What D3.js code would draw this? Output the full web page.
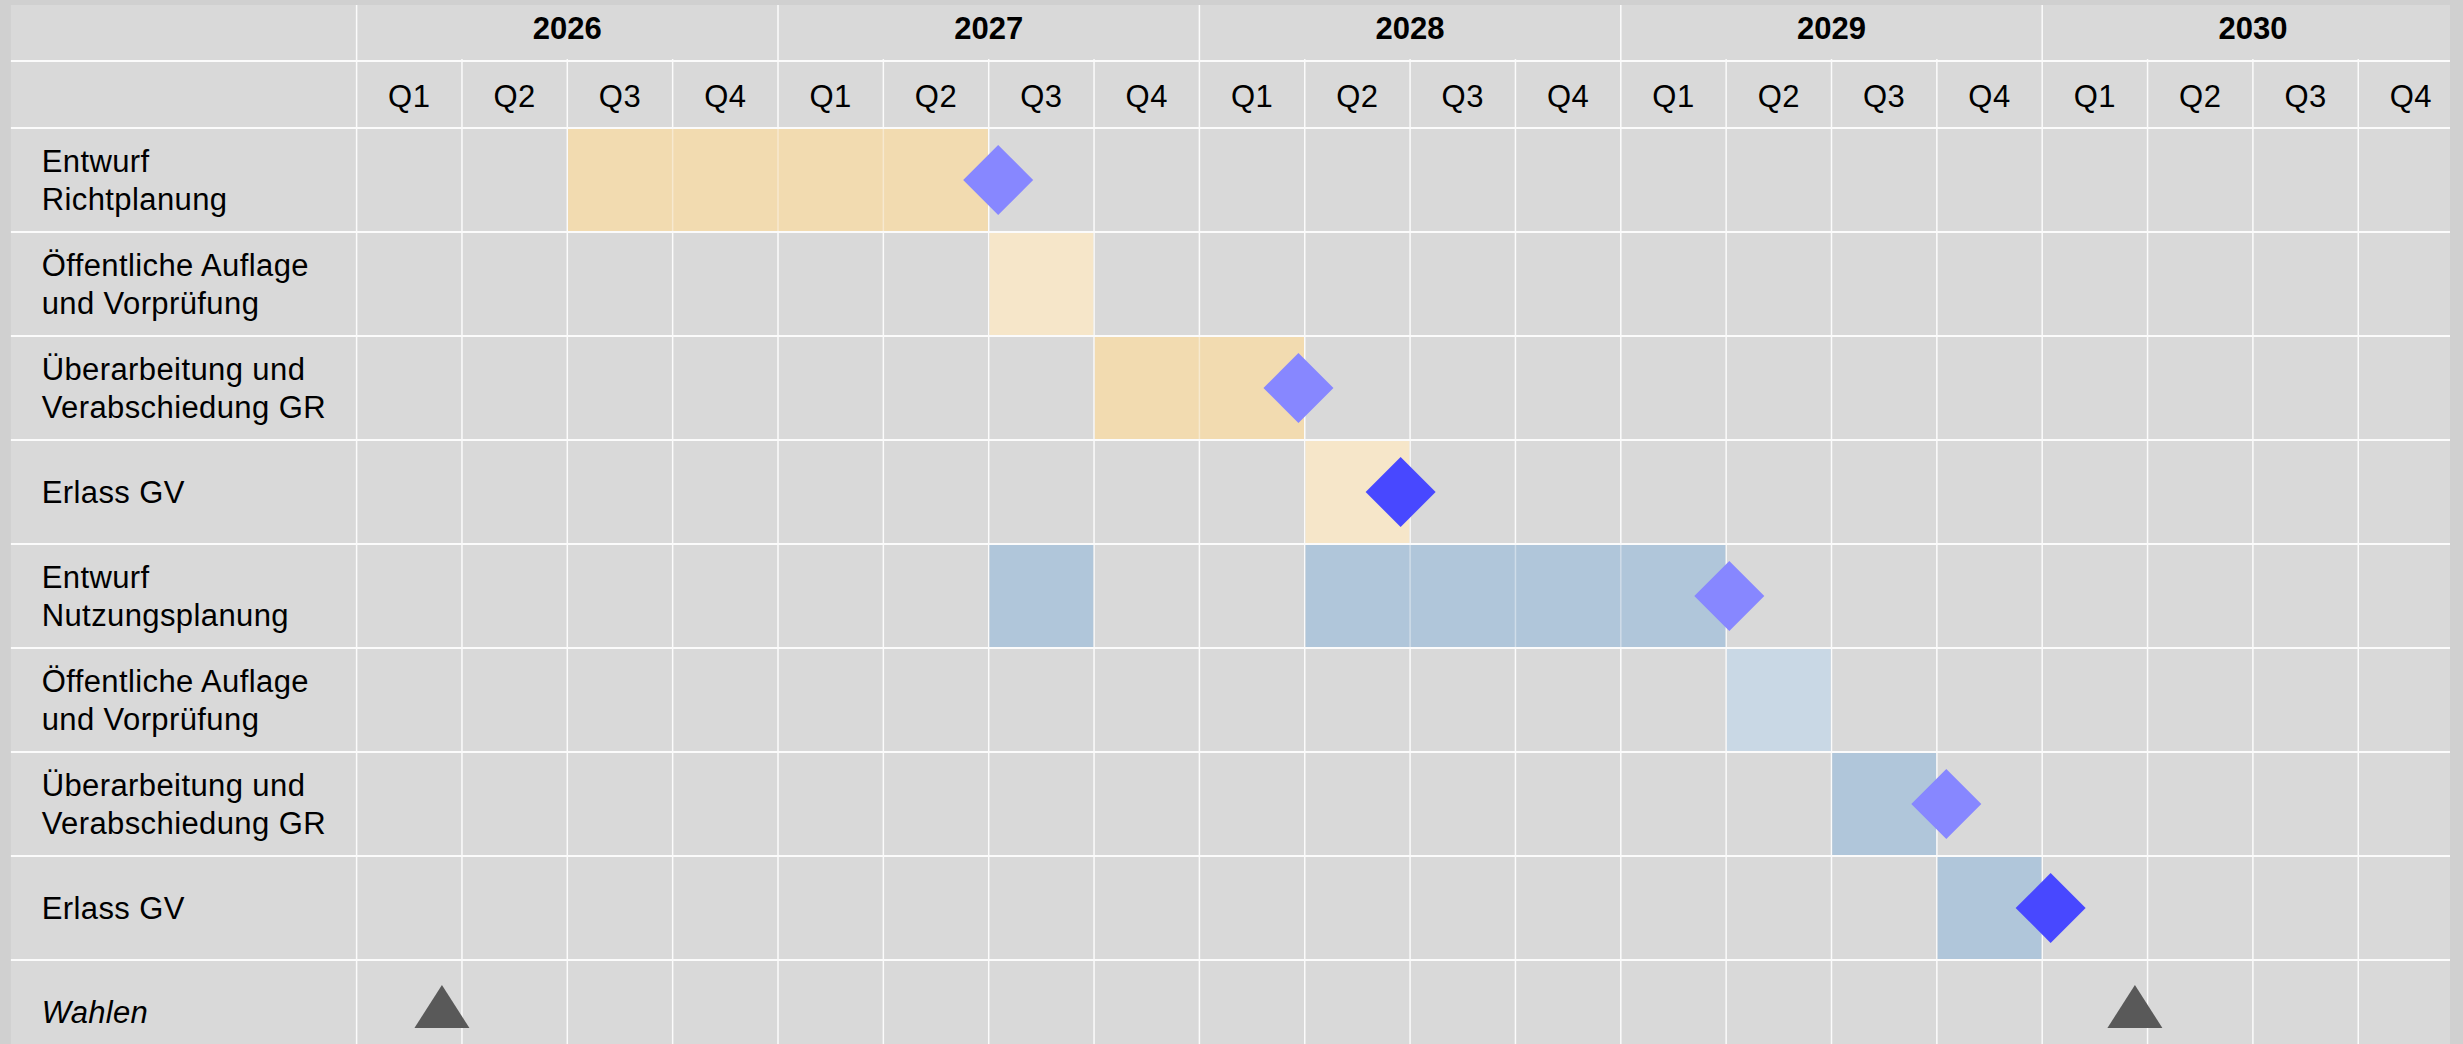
<!DOCTYPE html>
<html>
<head>
<meta charset="utf-8">
<script src="https://cdn.jsdelivr.net/npm/d3@7/dist/d3.min.js"></script>
<style>
  html, body { margin: 0; padding: 0; background: #d0d0d0; }
  svg { display: block; }
  text { font-family: "Liberation Sans", Arial, sans-serif; fill: #000; }
</style>
</head>
<body>
<svg id="chart" width="2463" height="1044"></svg>
<script>
// ---------- data ----------
const years = ["2026", "2027", "2028", "2029", "2030"];
const quarters = ["Q1", "Q2", "Q3", "Q4"];

const taskLabels = [
  ["Entwurf", "Richtplanung"],
  ["Öffentliche Auflage", "und Vorprüfung"],
  ["Überarbeitung und", "Verabschiedung GR"],
  ["Erlass GV"],
  ["Entwurf", "Nutzungsplanung"],
  ["Öffentliche Auflage", "und Vorprüfung"],
  ["Überarbeitung und", "Verabschiedung GR"],
  ["Erlass GV"]
];
const electionLabel = "Wahlen";

// quarter indices (0 = Q1 2026) occupied by each task
const taskCells = [
  [2, 3, 4, 5],
  [6],
  [7, 8],
  [9],
  [6, 9, 10, 11, 12],
  [13],
  [14],
  [15]
];
// planning group: "richt" (orange) or "nutz" (blue); shade: main / light
const taskGroup = ["richt", "richt", "richt", "richt", "nutz", "nutz", "nutz", "nutz"];
const taskShade = ["main", "light", "main", "light", "main", "light", "main", "main"];

// milestones (row index, position in quarters, kind)
const milestoneRow = [0, 2, 3, 4, 6, 7];
const milestonePos = [6.09, 8.94, 9.91, 13.03, 15.09, 16.08];
const milestoneKind = ["step", "step", "final", "step", "step", "final"];

// elections (position in quarters)
const electionPos = [0.81, 16.88];

// ---------- styles ----------
const colors = {
  richt: { main: "#f2dbb0", light: "#f6e6c9" },
  nutz: { main: "#b0c6da", light: "#c9d8e5" },
  step: "#8787ff",
  final: "#4848ff",
  election: "#595959",
  table: "#d9d9d9",
  grid: "#fbfbfb"
};

// ---------- layout ----------
const svg = d3.select("#chart");
const tableLeft = 10.7, tableTop = 5, tableRight = 2450, tableBottom = 1044;
const labelRight = 356.6;
const nQ = years.length * quarters.length;
const x = d3.scaleLinear().domain([0, nQ]).range([labelRight, 2463.6]);
const nRows = taskLabels.length + 1;
const y = d3.scaleLinear().domain([0, nRows]).range([128, 128 + 104 * nRows]);
const header1Bottom = 61;

svg.append("defs").append("clipPath").attr("id", "tableClip")
  .append("rect")
  .attr("x", tableLeft).attr("y", tableTop)
  .attr("width", tableRight - tableLeft).attr("height", tableBottom - tableTop);

const g = svg.append("g").attr("clip-path", "url(#tableClip)");

g.append("rect")
  .attr("x", tableLeft).attr("y", tableTop)
  .attr("width", tableRight - tableLeft).attr("height", tableBottom - tableTop)
  .attr("fill", colors.table);

// ---------- grid lines ----------
const gridG = g.append("g");
const hLines = [header1Bottom].concat(d3.range(0, nRows).map(i => y(i)));
gridG.selectAll("line.h").data(hLines).join("line")
  .attr("class", "h")
  .attr("x1", tableLeft).attr("x2", tableRight)
  .attr("y1", d => d).attr("y2", d => d)
  .attr("stroke", colors.grid).attr("stroke-width", 2);
gridG.append("line")
  .attr("x1", labelRight).attr("x2", labelRight)
  .attr("y1", tableTop).attr("y2", tableBottom)
  .attr("stroke", colors.grid).attr("stroke-width", 1.5);
gridG.selectAll("line.v").data(d3.range(1, nQ + 1)).join("line")
  .attr("class", "v")
  .attr("x1", d => x(d)).attr("x2", d => x(d))
  .attr("y1", d => (d % 4 === 0 ? tableTop : header1Bottom - 2))
  .attr("y2", tableBottom)
  .attr("stroke", colors.grid).attr("stroke-width", 1.5);

// ---------- bars ----------
function segments(cells) {
  const segs = [];
  cells.slice().sort((a, b) => a - b).forEach(c => {
    const last = segs[segs.length - 1];
    if (last && last[1] === c) last[1] = c + 1;
    else segs.push([c, c + 1]);
  });
  return segs;
}
const barData = [];
const jointData = [];
taskCells.forEach((cells, row) => {
  segments(cells).forEach(s => {
    barData.push({ row, start: s[0], end: s[1], color: colors[taskGroup[row]][taskShade[row]] });
    for (let k = s[0] + 1; k < s[1]; k++) jointData.push({ row, pos: k });
  });
});
const barsG = g.append("g");
barsG.selectAll("rect").data(barData).join("rect")
  .attr("x", d => x(d.start) + 0.75)
  .attr("y", d => y(d.row) + 1)
  .attr("width", d => x(d.end) - x(d.start) - 1.5)
  .attr("height", d => y(d.row + 1) - y(d.row) - 2)
  .attr("fill", d => d.color);
barsG.selectAll("line").data(jointData).join("line")
  .attr("x1", d => x(d.pos)).attr("x2", d => x(d.pos))
  .attr("y1", d => y(d.row) + 1).attr("y2", d => y(d.row + 1) - 1)
  .attr("stroke", "#ffffff").attr("stroke-opacity", 0.4).attr("stroke-width", 1.5);

// ---------- header text ----------
const headG = g.append("g");
headG.selectAll("text.year").data(years).join("text")
  .attr("class", "year")
  .attr("x", (d, i) => x(i * 4 + 2))
  .attr("y", 39)
  .attr("text-anchor", "middle")
  .attr("font-size", 31)
  .attr("font-weight", "bold")
  .text(d => d);
const qLabels = d3.range(nQ).map(i => quarters[i % 4]);
headG.selectAll("text.q").data(qLabels).join("text")
  .attr("class", "q")
  .attr("x", (d, i) => x(i + 0.5))
  .attr("y", 106.7)
  .attr("text-anchor", "middle")
  .attr("font-size", 31)
  .attr("letter-spacing", 0.5)
  .text(d => d);

// ---------- row labels ----------
const labG = g.append("g");
taskLabels.forEach((lines, row) => {
  const mid = (y(row) + y(row + 1)) / 2 + 11;
  const lh = 38.7;
  const t = labG.append("text").attr("font-size", 31).attr("letter-spacing", 0.4);
  lines.forEach((ln, k) => {
    t.append("tspan")
      .attr("x", 41.7)
      .attr("y", mid + (k - (lines.length - 1) / 2) * lh)
      .text(ln);
  });
});
labG.append("text")
  .attr("x", 41.7)
  .attr("y", (y(nRows - 1) + y(nRows)) / 2 + 11)
  .attr("font-size", 31)
  .attr("letter-spacing", 0.3)
  .attr("font-style", "italic")
  .text(electionLabel);

// ---------- milestones ----------
const ms = milestoneRow.map((r, i) => ({ row: r, pos: milestonePos[i], kind: milestoneKind[i] }));
const half = 35;
g.append("g").selectAll("path").data(ms).join("path")
  .attr("d", d => {
    const cx = x(d.pos), cy = (y(d.row) + y(d.row + 1)) / 2;
    return `M${cx},${cy - half}L${cx + half},${cy}L${cx},${cy + half}L${cx - half},${cy}Z`;
  })
  .attr("fill", d => colors[d.kind]);

// ---------- elections ----------
const eRow = nRows - 1;
g.append("g").selectAll("path").data(electionPos).join("path")
  .attr("d", d => {
    const cx = x(d), top = y(eRow) + 25, base = y(eRow) + 68;
    return `M${cx},${top}L${cx + 27.5},${base}L${cx - 27.5},${base}Z`;
  })
  .attr("fill", colors.election);
</script>
</body>
</html>
